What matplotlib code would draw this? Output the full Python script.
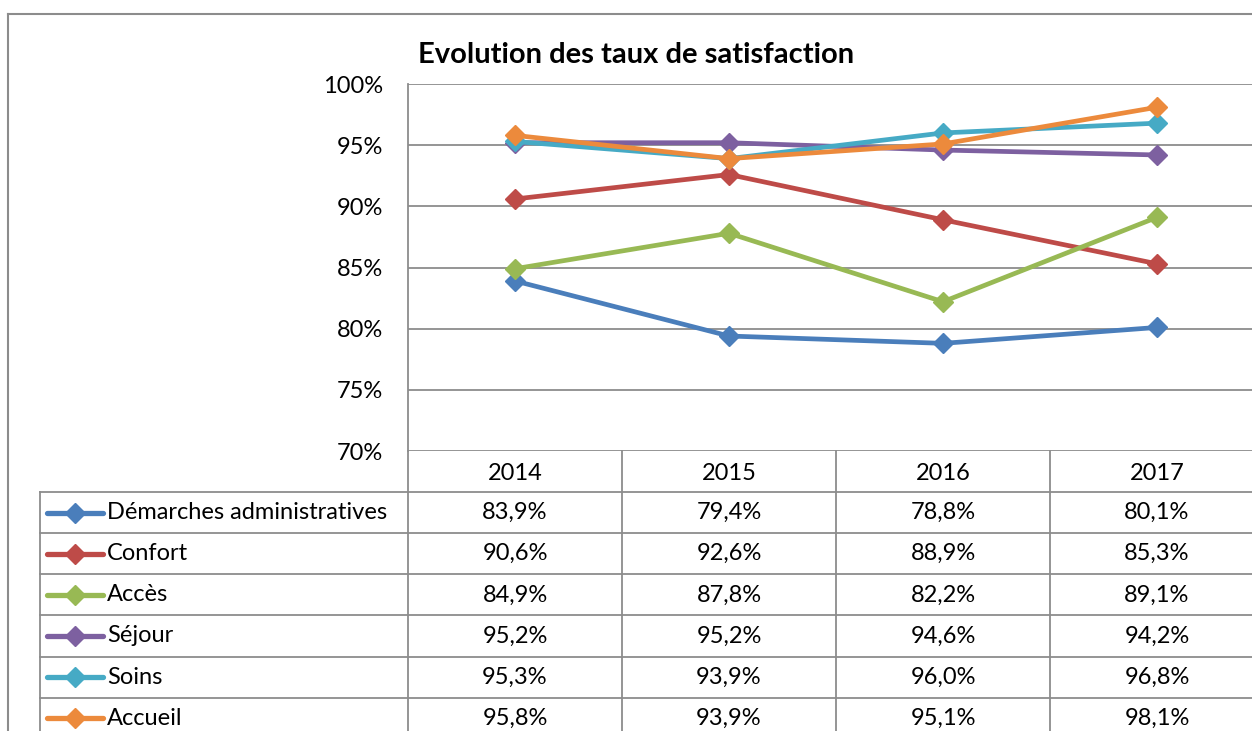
import matplotlib.pyplot as plt
from matplotlib.lines import Line2D

plt.rcParams['font.family'] = ['Lato', 'DejaVu Sans']

# Données
years = ["2014", "2015", "2016", "2017"]
series_names = ["Démarches administratives", "Confort", "Accès", "Séjour", "Soins", "Accueil"]
demarches = [83.9, 79.4, 78.8, 80.1]
confort = [90.6, 92.6, 88.9, 85.3]
acces = [84.9, 87.8, 82.2, 89.1]
sejour = [95.2, 95.2, 94.6, 94.2]
soins = [95.3, 93.9, 96.0, 96.8]
accueil = [95.8, 93.9, 95.1, 98.1]
y_ticks = [70, 75, 80, 85, 90, 95, 100]
title = "Evolution des taux de satisfaction"

all_series = [demarches, confort, acces, sejour, soins, accueil]
colors = ["#4A7EBB", "#BE4B48", "#98B954", "#7D60A0", "#46AAC5", "#EC8A3C"]
grid_col = "#8C8C8C"
fs = 17

W, H = 1252, 731
fig = plt.figure(figsize=(W / 100, H / 100), dpi=100)

def px(x0, y0, x1, y1):
    # pixel box -> figure fraction [left, bottom, width, height]
    return [x0 / W, 1 - y1 / H, (x1 - x0) / W, (y1 - y0) / H]

# cadre du graphique
fig.add_artist(Line2D([8 / W, 8 / W], [1 - 14 / H, 0], color=grid_col, lw=1.5))
fig.add_artist(Line2D([8 / W, 1], [1 - 14 / H, 1 - 14 / H], color=grid_col, lw=1.5))

col_w = 214
plot_l, plot_r, plot_t, plot_b = 408, 408 + 4 * col_w, 84, 451

ax = fig.add_axes(px(plot_l, plot_t, plot_r, plot_b))
x = range(len(years))
for vals, c in zip(all_series, colors):
    ax.plot(x, vals, color=c, lw=3.4, marker="D", ms=10, zorder=3, solid_capstyle="round")
ax.set_xlim(-0.5, 3.5)
ax.set_ylim(70, 100)
ax.set_yticks(y_ticks)
ax.set_yticklabels([f"{t}%" for t in y_ticks], fontsize=fs)
ax.set_xticks([])
ax.tick_params(axis="y", length=0, pad=18)
ax.grid(axis="y", color=grid_col, lw=1.3)
ax.set_axisbelow(True)
for s in ["top", "right", "bottom"]:
    ax.spines[s].set_visible(False)
ax.spines["left"].set_color(grid_col)
ax.spines["left"].set_linewidth(1.3)

fig.text(636 / W, 1 - 55 / H, title, ha="center", va="center",
         fontsize=21, fontweight="bold")

# table de données
row_h = 41.1
n_rows = len(series_names) + 1
tab_l = 40
x_left = -0.5 - (plot_l - tab_l) / col_w
tab = fig.add_axes(px(tab_l, plot_b, plot_r, plot_b + n_rows * row_h))
tab.set_xlim(x_left, 3.5)
tab.set_ylim(n_rows, 0)
tab.axis("off")

lk = dict(color=grid_col, lw=1.3, clip_on=False)
for r in range(1, n_rows + 1):
    tab.plot([x_left, 3.5], [r, r], **lk)
for c in range(len(years) + 1):
    tab.plot([c - 0.5, c - 0.5], [0, n_rows], **lk)
tab.plot([x_left, x_left], [1, n_rows], **lk)

for i, yr in enumerate(years):
    tab.text(i, 0.55, yr, ha="center", va="center", fontsize=fs)

key_w = 56 / col_w
for r, (name, vals, c) in enumerate(zip(series_names, all_series, colors), start=1):
    yc = r + 0.5
    x0 = x_left + 7 / col_w
    tab.plot([x0, x0 + key_w], [yc, yc], color=c, lw=3.8, clip_on=False,
             solid_capstyle="round")
    tab.plot([x0 + key_w / 2], [yc], color=c, marker="D", ms=10, clip_on=False)
    tab.text(x0 + key_w + 4 / col_w, yc, name, ha="left", va="center", fontsize=fs)
    for i, v in enumerate(vals):
        tab.text(i, yc, f"{v:.1f}%".replace(".", ","), ha="center", va="center",
                 fontsize=fs)

fig.savefig("out.png", dpi=100)
